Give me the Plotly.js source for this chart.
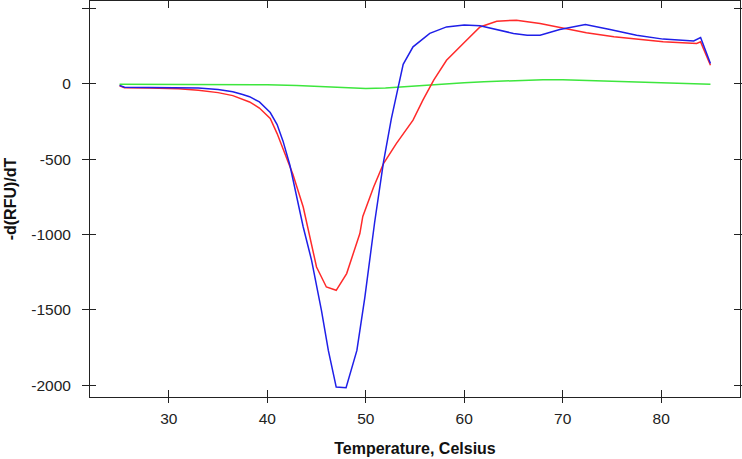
<!DOCTYPE html>
<html>
<head>
<meta charset="utf-8">
<script src="https://cdn.plot.ly/plotly-3.0.1.min.js"></script>
<style>html,body{margin:0;padding:0;background:#fff;}#chart{width:742px;height:459px;}</style>
</head>
<body>
<div id="chart"></div>
<script>
// Temperature (Celsius) and -d(RFU)/dT values
var blueT = [25, 25.5, 28, 31, 33, 35, 36.5, 37.5, 38.2, 39.2, 40.3, 41.0, 41.6, 42.3, 43.1, 43.65, 44.5, 45.5, 46.2, 47.0, 48.0, 49.1, 49.9, 50.4, 50.9, 51.8, 52.6, 53.3, 53.8, 54.8, 56.5, 58.2, 60.0, 61.6, 63.6, 65.0, 66.4, 67.7, 69.7, 72.3, 74.8, 77.5, 80.2, 83.3, 84.0, 85.0];
var blueV = [-10, -22, -24, -25, -28, -38, -52, -70, -85, -120, -190, -270, -380, -540, -770, -950, -1171, -1503, -1769, -2012, -2016, -1769, -1420, -1170, -920, -520, -230, -20, 130, 246, 335, 378, 390, 385, 357, 335, 323, 323, 361, 394, 361, 323, 297, 285, 308, 135];

var redT = [25, 25.5, 28, 31, 33, 35, 36.5, 38.2, 39.2, 40.3, 41.0, 41.6, 42.3, 42.6, 43.65, 45.0, 46.0, 47.0, 48.06, 49.4, 49.7, 50.4, 50.8, 51.8, 53.1, 54.8, 55.8, 56.9, 58.2, 59.9, 61.6, 63.3, 65.3, 67.7, 70.1, 72.4, 75.2, 77.9, 80.2, 83.6, 84.0, 85.0];
var redV = [-12, -25, -28, -32, -42, -58, -78, -120, -160, -230, -330, -430, -550, -600, -817, -1215, -1348, -1370, -1259, -993, -880, -750, -684, -529, -396, -241, -108, 25, 157, 268, 378, 416, 423, 401, 368, 339, 312, 296, 279, 268, 279, 124];

var greenT = [25, 30, 35, 40, 43, 46, 48, 50, 52, 54, 56, 58, 60, 62, 64, 66, 68, 70, 72, 74, 76, 78, 80, 82, 84, 85];
var greenV = [-3, -3, -4, -6, -10, -18, -24, -30, -28, -18, -8, 2, 8, 14, 20, 26, 28, 28, 24, 18, 13, 10, 8, 5, 0, -2];

var xTicks = [30, 40, 50, 60, 70, 80];
var yTicks = [-2000, -1500, -1000, -500, 0, 500];
var xRange = [22, 88];
var yRange = [-2078, 550];

var lineW = 1.5;
var traces = [
  {x: greenT, y: greenV, type: 'scatter', mode: 'lines', line: {color: '#3de63d', width: lineW}, hoverinfo: 'skip'},
  {x: redT, y: redV, type: 'scatter', mode: 'lines', line: {color: '#ff2a2a', width: lineW}, hoverinfo: 'skip'},
  {x: blueT, y: blueV, xaxis: 'x2', yaxis: 'y2', type: 'scatter', mode: 'lines', line: {color: '#1f1fe8', width: lineW}, hoverinfo: 'skip'}
];

var axFont = {family: 'Liberation Sans, Arial, sans-serif', size: 15.5, color: '#222'};
var titleFont = {family: 'Liberation Sans, Arial, sans-serif', size: 16, color: '#111', weight: 'bold'};

var layout = {
  width: 742, height: 459,
  margin: {l: 90, r: 2, t: 1, b: 62},
  paper_bgcolor: '#fff', plot_bgcolor: '#fff',
  showlegend: false,
  xaxis: {
    range: xRange, tickvals: xTicks, ticktext: xTicks.map(String),
    showgrid: false, zeroline: false,
    showline: true, linecolor: '#222', linewidth: 1, mirror: 'ticks',
    ticks: 'outside', ticklen: 5, tickcolor: '#222', tickwidth: 1,
    tickfont: axFont, ticklabelstandoff: 2,
    title: {text: 'Temperature, Celsius', font: titleFont, standoff: 17}
  },
  yaxis: {
    range: yRange, tickvals: yTicks, ticktext: yTicks.map(String),
    showgrid: false, zeroline: false,
    showline: true, linecolor: '#222', linewidth: 1, mirror: 'ticks',
    ticks: 'outside', ticklen: 7, tickcolor: '#222', tickwidth: 1,
    tickfont: axFont, ticklabelstandoff: 8,
    title: {text: '-d(RFU)/dT', font: titleFont, standoff: 10}
  },
  xaxis2: {
    overlaying: 'x', range: xRange, tickvals: xTicks, showticklabels: false,
    showgrid: false, zeroline: false, showline: false, mirror: 'ticks',
    ticks: 'inside', ticklen: 7, tickcolor: '#222', tickwidth: 1
  },
  yaxis2: {
    overlaying: 'y', range: yRange, tickvals: yTicks, showticklabels: false,
    showgrid: false, zeroline: false, showline: false, mirror: 'ticks',
    ticks: 'inside', ticklen: 6, tickcolor: '#222', tickwidth: 1
  }
};

Plotly.newPlot('chart', traces, layout, {staticPlot: true, displayModeBar: false});
</script>
</body>
</html>
